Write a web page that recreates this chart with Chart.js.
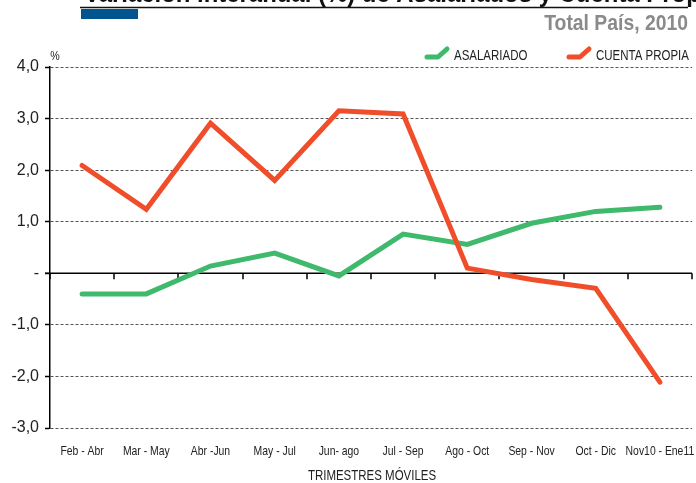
<!DOCTYPE html>
<html>
<head>
<meta charset="utf-8">
<script src="https://cdn.jsdelivr.net/npm/chart.js@4"></script>
<style>
  html, body { margin: 0; padding: 0; background: #fff; }
  #wrap { width: 696px; height: 483px; }
</style>
</head>
<body>
<div id="wrap"><canvas id="myChart" width="696" height="483"></canvas></div>
<script>
// datos
const trimestres = ['Feb - Abr', 'Mar - May', 'Abr -Jun', 'May - Jul', 'Jun- ago', 'Jul - Sep', 'Ago - Oct', 'Sep - Nov', 'Oct - Dic', 'Nov10 - Ene11'];
const asalariado = [-0.4, -0.4, 0.14, 0.39, -0.05, 0.76, 0.56, 0.97, 1.2, 1.28];
const cuentaPropia = [2.09, 1.24, 2.91, 1.8, 3.15, 3.09, 0.1, -0.12, -0.29, -2.11];
const yTicks = [4, 3, 2, 1, 0, -1, -2, -3];

const VERDE = '#3fb96c';
const ROJO = '#f04e2b';
const SANS = '"Liberation Sans", Arial, sans-serif';

// texto "estrecho": fuente normal comprimida en horizontal
function narrowText(c, txt, x, y, font, sx, align) {
  c.save();
  c.font = font;
  c.textAlign = align || 'left';
  c.translate(x, y);
  c.scale(sx, 1);
  c.fillText(txt, 0, 0);
  c.restore();
}

// titulo, leyenda, etiquetas y linea del cero
const extras = {
  id: 'extras',
  beforeDatasetsDraw(chart) {
    const c = chart.ctx, x = chart.scales.x, y = chart.scales.y;
    const y0 = y.getPixelForValue(0);
    c.save();
    c.strokeStyle = '#000';
    c.lineWidth = 1.5;
    c.beginPath();
    c.moveTo(chart.chartArea.left - 5, y0);
    c.lineTo(chart.chartArea.right, y0);
    for (let i = 0; i <= trimestres.length; i++) {
      const px = Math.round(x.getPixelForValue(i - 0.5));
      c.moveTo(px, y0);
      c.lineTo(px, y0 + 6);
    }
    c.stroke();
    c.restore();
  },
  afterDraw(chart) {
    const c = chart.ctx, x = chart.scales.x;
    c.save();
    c.textBaseline = 'alphabetic';

    // titulo cortado arriba
    c.fillStyle = '#111';
    narrowText(c, 'Variación interanual (%) de Asalariados y Cuenta Propia', 84, 2, 'bold 26px ' + SANS, 0.92);
    c.strokeStyle = '#111';
    c.lineWidth = 1.5;
    c.beginPath();
    c.moveTo(80, 7.5);
    c.lineTo(688, 7.5);
    c.stroke();
    c.fillStyle = '#00558f';
    c.fillRect(81, 9, 57, 10);
    c.fillStyle = '#8a8a8a';
    narrowText(c, 'Total País, 2010', 688, 30, 'bold 22px ' + SANS, 0.88, 'right');

    // unidad
    c.fillStyle = '#222';
    narrowText(c, '%', 55, 60, '13px ' + SANS, 0.82, 'center');

    // leyenda
    const items = [[425, 'ASALARIADO', VERDE], [567, 'CUENTA PROPIA', ROJO]];
    c.lineCap = 'round';
    c.lineJoin = 'round';
    items.forEach(([lx, txt, col]) => {
      c.strokeStyle = col;
      c.lineWidth = 5;
      c.beginPath();
      c.moveTo(lx + 2, 57);
      c.lineTo(lx + 13, 57);
      c.lineTo(lx + 22, 49);
      c.stroke();
      c.fillStyle = '#222';
      narrowText(c, txt, lx + 29, 60, '14px ' + SANS, 0.82);
    });

    // etiquetas del eje x
    c.fillStyle = '#222';
    trimestres.forEach((t, i) => {
      narrowText(c, t, x.getPixelForValue(i), 455, '13px ' + SANS, 0.8, 'center');
    });
    narrowText(c, 'TRIMESTRES MÓVILES', (x.left + x.right) / 2 + 1, 480, '14px ' + SANS, 0.82, 'center');
    c.restore();
  }
};

const ctx = document.getElementById('myChart');

new Chart(ctx, {
  type: 'line',
  data: {
    labels: trimestres,
    datasets: [{
      label: 'ASALARIADO',
      data: asalariado,
      borderColor: VERDE,
      borderWidth: 5,
      borderCapStyle: 'round',
      pointRadius: 0,
      tension: 0,
      order: 1
    }, {
      label: 'CUENTA PROPIA',
      data: cuentaPropia,
      borderColor: ROJO,
      borderWidth: 5,
      borderCapStyle: 'round',
      pointRadius: 0,
      tension: 0,
      order: 0
    }]
  },
  options: {
    responsive: false,
    animation: false,
    events: [],
    layout: {
      padding: { top: 67, right: 4, left: 0, bottom: 0 }
    },
    plugins: {
      legend: false,
      title: false,
      tooltip: false
    },
    scales: {
      x: {
        offset: true,
        grid: { display: false, drawTicks: false },
        border: { display: false },
        ticks: { display: false },
        afterFit(scale) { scale.height = 55; }
      },
      y: {
        min: -3,
        max: 4,
        afterBuildTicks(scale) { scale.ticks = yTicks.map(v => ({ value: v })); },
        grid: {
          color: c => c.tick && c.tick.value === 0 ? 'rgba(0,0,0,0)' : '#555',
          lineWidth: 1,
          drawTicks: true,
          tickLength: 5,
          tickColor: '#000',
          tickWidth: 1.5
        },
        border: { display: true, color: '#000', width: 1.5, dash: [3, 2] },
        ticks: {
          color: '#222',
          font: { family: SANS, size: 16 },
          padding: 6,
          callback: v => v === 0 ? '-' : v.toFixed(1).replace('.', ',')
        },
        afterFit(scale) { scale.width = 50; }
      }
    }
  },
  plugins: [extras]
});
</script>
</body>
</html>
